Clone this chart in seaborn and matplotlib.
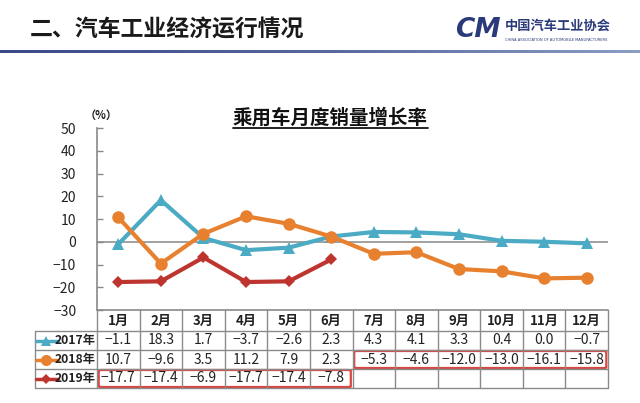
import numpy as np
import pandas as pd
import matplotlib
matplotlib.use("Agg")
import matplotlib.pyplot as plt
from matplotlib.patches import FancyBboxPatch
from matplotlib.colors import LinearSegmentedColormap
import seaborn as sns

months = ["1月", "2月", "3月", "4月", "5月", "6月", "7月", "8月", "9月", "10月", "11月", "12月"]
s2017 = [-1.1, 18.3, 1.7, -3.7, -2.6, 2.3, 4.3, 4.1, 3.3, 0.4, 0.0, -0.7]
s2018 = [10.7, -9.6, 3.5, 11.2, 7.9, 2.3, -5.3, -4.6, -12.0, -13.0, -16.1, -15.8]
s2019 = [-17.7, -17.4, -6.9, -17.7, -17.4, -7.8]
series_names = ["2017年", "2018年", "2019年"]
yticks = [50, 40, 30, 20, 10, 0, -10, -20, -30]

sns.set_theme(style="white")
plt.rcParams['font.family'] = ['Noto Sans CJK SC', 'DejaVu Sans']
plt.rcParams['axes.unicode_minus'] = True

W, H = 640, 403
fig = plt.figure(figsize=(W / 100, H / 100), dpi=100)
fig.patch.set_facecolor("white")

def fbox(x0, y0, x1, y1):
    return [x0 / W, 1 - y1 / H, (x1 - x0) / W, (y1 - y0) / H]

colors = {"2017年": "#4BAAC4", "2018年": "#E8812F", "2019年": "#BE3530"}
markers = {"2017年": "^", "2018年": "o", "2019年": "D"}
msizes = {"2017年": 8, "2018年": 9, "2019年": 6}

# ---- header ----
fig.text(30 / W, 1 - 30 / H, "二、汽车工业经济运行情况", fontsize=16.5, fontweight="bold",
         color="#1a1a1a", va="center", ha="left")
gax = fig.add_axes(fbox(0, 50, 640, 53))
grad = np.linspace(0, 1, 256).reshape(1, -1)
cm = LinearSegmentedColormap.from_list("g", ["#3a4a86", "#56679e", "#8d9cc3"])
gax.imshow(grad, aspect="auto", cmap=cm)
gax.set_axis_off()
fig.text(478 / W, 1 - 30 / H, "CM", fontsize=19, fontweight="bold", fontstyle="italic",
         color="#2B3A7A", va="center", ha="center", family="DejaVu Sans")
fig.text(505 / W, 1 - 26 / H, "中国汽车工业协会", fontsize=9.5, fontweight="bold",
         color="#2B3A7A", va="center", ha="left")
fig.text(505 / W, 1 - 40 / H, "CHINA ASSOCIATION OF AUTOMOBILE MANUFACTURERS", fontsize=2.6,
         color="#2B3A7A", va="center", ha="left", family="DejaVu Sans")

# ---- main chart ----
x_left, x_right = 97, 608
ax = fig.add_axes(fbox(x_left, 128, x_right, 310))
ncol = len(months)
idx = np.arange(ncol)

for name, vals in zip(series_names, [s2017, s2018, s2019]):
    df = pd.DataFrame({"m": idx[:len(vals)], "v": vals})
    sns.lineplot(data=df, x="m", y="v", ax=ax, color=colors[name], marker=markers[name],
                 markersize=msizes[name], markeredgewidth=0, linewidth=3, legend=False)

ax.axhline(0, color="#9a9a9a", lw=1.3, zorder=0)
ax.set_xlim(-0.5, ncol - 0.5)
ax.set_ylim(-30, 50)
ax.set_yticks(yticks)
ax.set_yticklabels([f"{t}".replace("-", "−") for t in yticks], fontsize=10, color="#222")
ax.tick_params(axis="y", direction="in", length=4, width=1, color="#888", pad=15, left=True)
ax.set_xticks([])
ax.set_xlabel("")
ax.set_ylabel("")
for s in ["top", "right", "bottom"]:
    ax.spines[s].set_visible(False)
ax.spines["left"].set_color("#888")
ax.spines["left"].set_linewidth(1.2)
ax.set_facecolor("none")

fig.text(101 / W, 1 - 115 / H, "（%）", fontsize=8, fontweight="bold", color="#222",
         ha="center", va="center")
t = fig.text(330 / W, 1 - 118 / H, "乘用车月度销量增长率", fontsize=14, fontweight="bold",
             color="#111", ha="center", va="center")
fig.canvas.draw()
bb = t.get_window_extent()
fig.add_artist(plt.Line2D([bb.x0 / W, bb.x1 / W], [1 - 128 / H, 1 - 128 / H],
                          color="#111", lw=1.3))

# ---- table ----
tbl = fig.add_axes(fbox(x_left, 310, x_right, 388))
tbl.set_xlim(-0.5, ncol - 0.5)
tbl.set_ylim(78, 0)
tbl.set_axis_off()
w = (x_right - x_left) / ncol

def px2x(px):
    return (px - x_left) / w - 0.5

rows = [0, 21, 40, 59, 78]
gc = "#8a8a8a"
lx = px2x(35)
tbl.plot([-0.5, ncol - 0.5], [0, 0], color=gc, lw=1.2, clip_on=False)
for r in rows[1:]:
    tbl.plot([lx, ncol - 0.5], [r, r], color=gc, lw=1, clip_on=False)
for i in range(ncol + 1):
    tbl.plot([i - 0.5, i - 0.5], [0, 78], color=gc, lw=1, clip_on=False)
tbl.plot([lx, lx], [21, 78], color=gc, lw=1, clip_on=False)

for i, m in enumerate(months):
    tbl.text(i, 10.5, m, ha="center", va="center", fontsize=9.5, fontweight="bold", color="#222")

for r, (name, vals) in enumerate(zip(series_names, [s2017, s2018, s2019])):
    yc = (rows[r + 1] + rows[r + 2]) / 2
    for i, v in enumerate(vals):
        tbl.text(i, yc, f"{v:.1f}".replace("-", "−"), ha="center", va="center",
                 fontsize=10, color="#222")
    tbl.plot([px2x(36), px2x(58)], [yc, yc], color=colors[name], lw=2.5, clip_on=False)
    tbl.plot([px2x(46)], [yc], marker=markers[name], color=colors[name],
             markersize=msizes[name] - 1, markeredgewidth=0, clip_on=False)
    tbl.text(px2x(96), yc, name, ha="right", va="center", fontsize=8.8,
             fontweight="bold", color="#222", clip_on=False)

red = "#D9463F"
for (c0, c1, r0, r1) in [(0, 6, 59, 78), (6, 12, 40, 59)]:
    p = FancyBboxPatch((c0 - 0.5 + 0.04, r0 + 1), (c1 - c0) - 0.08, (r1 - r0) - 2,
                       boxstyle="round,pad=0,rounding_size=0.08", fill=False,
                       edgecolor=red, lw=1.6, clip_on=False, mutation_aspect=6)
    tbl.add_patch(p)

fig.savefig("out.png", dpi=100, facecolor="white")
